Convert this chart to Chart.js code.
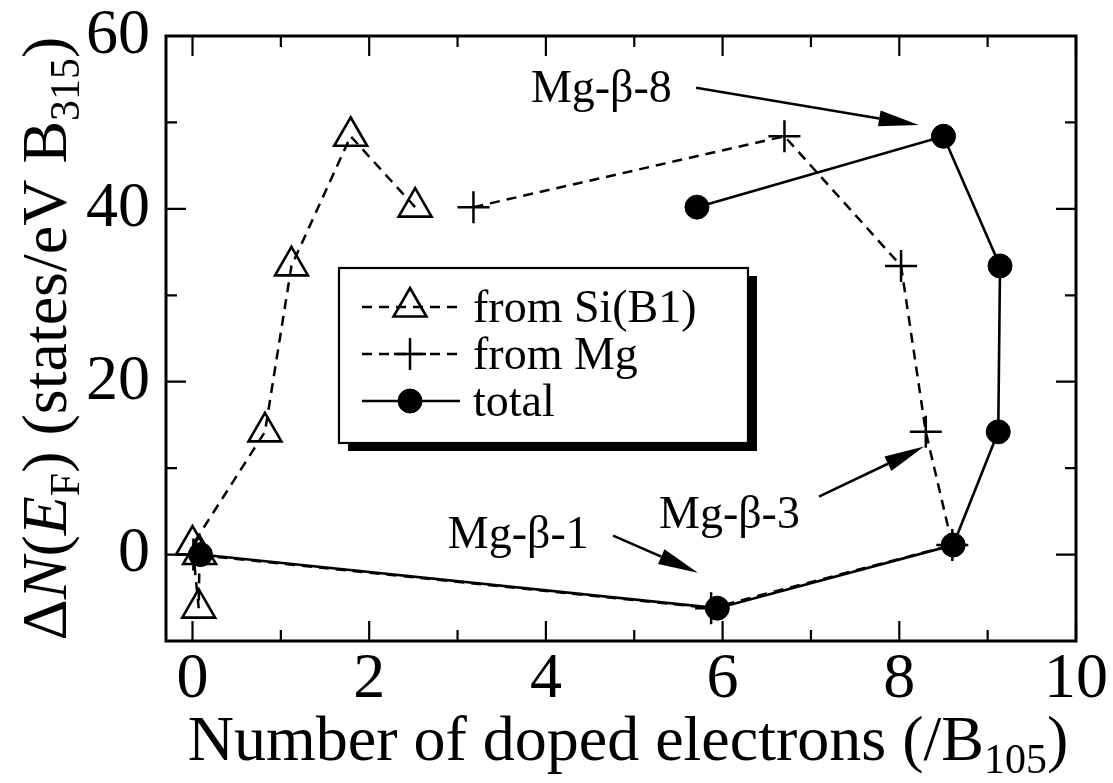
<!DOCTYPE html>
<html>
<head>
<meta charset="utf-8">
<script src="https://cdn.jsdelivr.net/npm/chart.js@4.4.1/dist/chart.umd.min.js"></script>
<style>
  html, body { margin: 0; padding: 0; background: #fff; }
  #wrap { width: 1113px; height: 783px; }
</style>
</head>
<body>
<div id="wrap"><canvas id="dos-chart" width="1113" height="783"></canvas></div>
<script>
/* ---- values (one entry per doping configuration) ---- */
const dopedSi    = [2.52, 1.79, 1.12, 0.82, 0.00, 0.07, 0.08];
const dopedMg    = [3.18, 6.70, 8.02, 8.30, 8.60, 5.87, 0.01];
const dopedTotal = [5.71, 8.50, 9.14, 9.12, 8.61, 5.94, 0.09];
const dosChange  = [40.2, 48.4, 33.4, 14.2, 1.1, -6.2, 0.0];

const seriesLabels = ["from Si(B1)", "from Mg", "total"];
const xTickValues = [0, 2, 4, 6, 8, 10];
const yTickValues = [0, 20, 40, 60];

/* annotations, placed in data units */
const notes = [
    { text: "Mg-\u03b2-8", at: [3.83, 52.4], from: [5.70, 54.0], to: [8.22, 49.7] },
    { text: "Mg-\u03b2-3", at: [5.28, 3.1],  from: [7.09, 6.7],  to: [8.28, 12.5] },
    { text: "Mg-\u03b2-1", at: [2.89, 0.8],  from: [4.76, 2.2],  to: [5.72, -2.1] }
];

const FONT = "'Liberation Serif', 'Times New Roman', Times, 'DejaVu Serif', serif";
const pts = (xs) => xs.map((x, i) => ({ x: x, y: dosChange[i] }));

/* draw text made of pieces: [text, "it" | "sub" | undefined] */
function fontFor(kind, size) {
    if (kind === "sub") return `${Math.round(size * 0.65)}px ${FONT}`;
    if (kind === "it") return `italic ${size}px ${FONT}`;
    return `${size}px ${FONT}`;
}
function richWidth(ctx, parts, size) {
    let w = 0;
    parts.forEach(([t, kind]) => {
        ctx.font = fontFor(kind, size);
        w += ctx.measureText(t).width;
    });
    return w;
}
function drawRich(ctx, parts, x, y, size) {
    ctx.textAlign = "left";
    ctx.textBaseline = "alphabetic";
    let cx = x;
    parts.forEach(([t, kind]) => {
        ctx.font = fontFor(kind, size);
        ctx.fillText(t, cx, kind === "sub" ? y + size * 0.2 : y);
        cx += ctx.measureText(t).width;
    });
}

function arrow(ctx, x0, y0, x1, y1) {
    const ang = Math.atan2(y1 - y0, x1 - x0);
    const len = 40, half = 8;
    const bx = x1 - Math.cos(ang) * len, by = y1 - Math.sin(ang) * len;
    ctx.beginPath();
    ctx.moveTo(x0, y0);
    ctx.lineTo(bx, by);
    ctx.stroke();
    ctx.beginPath();
    ctx.moveTo(x1, y1);
    ctx.lineTo(bx - Math.sin(ang) * half, by + Math.cos(ang) * half);
    ctx.lineTo(bx + Math.sin(ang) * half, by - Math.cos(ang) * half);
    ctx.closePath();
    ctx.fill();
}

const paperPlugin = {
    id: "paper",
    afterDraw(chart) {
        const ctx = chart.ctx;
        const a = chart.chartArea;
        const xs = chart.scales.x, ys = chart.scales.y;
        ctx.save();
        ctx.strokeStyle = "#000";
        ctx.fillStyle = "#000";

        // frame
        ctx.lineWidth = 3;
        ctx.strokeRect(a.left, a.top, a.right - a.left, a.bottom - a.top);

        // inward ticks on all four sides
        ctx.lineWidth = 2.2;
        const tick = (px, horiz, len) => {
            ctx.beginPath();
            if (horiz) {
                ctx.moveTo(px, a.bottom); ctx.lineTo(px, a.bottom - len);
                ctx.moveTo(px, a.top);    ctx.lineTo(px, a.top + len);
            } else {
                ctx.moveTo(a.left, px);  ctx.lineTo(a.left + len, px);
                ctx.moveTo(a.right, px); ctx.lineTo(a.right - len, px);
            }
            ctx.stroke();
        };
        xTickValues.forEach((v, i) => {
            tick(xs.getPixelForValue(v), true, 20);
            if (i > 0) tick(xs.getPixelForValue((v + xTickValues[i - 1]) / 2), true, 11);
        });
        yTickValues.forEach((v, i) => {
            tick(ys.getPixelForValue(v), false, 20);
            if (i > 0) tick(ys.getPixelForValue((v + yTickValues[i - 1]) / 2), false, 11);
        });

        // annotations
        ctx.lineWidth = 2.5;
        notes.forEach(n => {
            drawRich(ctx, [[n.text]], xs.getPixelForValue(n.at[0]), ys.getPixelForValue(n.at[1]), 46);
            arrow(ctx,
                xs.getPixelForValue(n.from[0]), ys.getPixelForValue(n.from[1]),
                xs.getPixelForValue(n.to[0]), ys.getPixelForValue(n.to[1]));
        });

        // legend box with drop shadow
        const L = a.left + 173, T = a.top + 232, R = a.left + 582, B = a.top + 407;
        ctx.fillRect(L + 9, T + 8, R - L, B - T);
        ctx.fillStyle = "#fff";
        ctx.fillRect(L, T, R - L, B - T);
        ctx.lineWidth = 2.2;
        ctx.strokeRect(L, T, R - L, B - T);
        chart.data.datasets.forEach((ds, i) => {
            const cy = T + 39 + i * 47;
            ctx.strokeStyle = "#000";
            ctx.lineWidth = ds.borderWidth;
            ctx.setLineDash(ds.borderDash || []);
            ctx.beginPath();
            ctx.moveTo(L + 23, cy);
            ctx.lineTo(L + 121, cy);
            ctx.stroke();
            ctx.setLineDash([]);
            ctx.lineWidth = ds.pointBorderWidth;
            ctx.fillStyle = ds.pointBackgroundColor;
            Chart.helpers.drawPoint(ctx, {
                pointStyle: ds.pointStyle, radius: ds.pointRadius,
                borderWidth: ds.pointBorderWidth, rotation: 0
            }, L + 71, cy);
            ctx.fillStyle = "#000";
            drawRich(ctx, [[ds.label]], L + 134, cy + 15, 46);
        });

        // axis titles
        ctx.fillStyle = "#000";
        const xTitle = [["Number of doped electrons (/B"], ["105", "sub"], [")"]];
        const xw = richWidth(ctx, xTitle, 64);
        drawRich(ctx, xTitle, 628 - xw / 2, 760, 64);

        const yTitle = [["\u0394"], ["N", "it"], ["("], ["E", "it"], ["F", "sub"],
                        [") (states/eV B"], ["315", "sub"], [")"]];
        const yw = richWidth(ctx, yTitle, 64);
        ctx.translate(66, (a.top + a.bottom) / 2);
        ctx.rotate(-Math.PI / 2);
        drawRich(ctx, yTitle, -yw / 2, 0, 64);
        ctx.restore();
    }
};

const common = { showLine: true, tension: 0, borderColor: "#000", pointBorderColor: "#000", pointHoverRadius: 0 };

new Chart(document.getElementById("dos-chart").getContext("2d"), {
    type: "scatter",
    data: {
        datasets: [
            Object.assign({}, common, {
                label: seriesLabels[0],
                data: pts(dopedSi),
                borderWidth: 2.5, borderDash: [10, 7],
                pointStyle: "triangle", pointRadius: 19, pointBorderWidth: 2.6,
                pointBackgroundColor: "rgba(0,0,0,0)"
            }),
            Object.assign({}, common, {
                label: seriesLabels[1],
                data: pts(dopedMg),
                borderWidth: 2.5, borderDash: [10, 7],
                pointStyle: "cross", pointRadius: 16, pointBorderWidth: 2.5,
                pointBackgroundColor: "rgba(0,0,0,0)"
            }),
            Object.assign({}, common, {
                label: seriesLabels[2],
                data: pts(dopedTotal),
                borderWidth: 2.6,
                pointStyle: "circle", pointRadius: 12, pointBorderWidth: 1,
                pointBackgroundColor: "#000"
            })
        ]
    },
    options: {
        responsive: false,
        animation: false,
        events: [],
        layout: { padding: { left: 86, right: 37, top: 36, bottom: 72 } },
        plugins: { legend: { display: false }, tooltip: { enabled: false } },
        scales: {
            x: {
                type: "linear", min: -0.3, max: 10,
                afterBuildTicks: (s) => { s.ticks = xTickValues.map(v => ({ value: v })); },
                afterFit: (s) => { s.height = 70; s.paddingLeft = 0; s.paddingRight = 0; },
                grid: { display: false, drawTicks: false },
                border: { display: false },
                ticks: { color: "#000", padding: 7, maxRotation: 0,
                         font: { family: FONT, size: 64, lineHeight: 1 } }
            },
            y: {
                type: "linear", min: -10, max: 60,
                afterBuildTicks: (s) => { s.ticks = yTickValues.map(v => ({ value: v })); },
                afterFit: (s) => { s.width = 80; s.paddingTop = 0; s.paddingBottom = 0; },
                grid: { display: false, drawTicks: false },
                border: { display: false },
                ticks: { color: "#000", padding: 16,
                         font: { family: FONT, size: 64, lineHeight: 1 } }
            }
        }
    },
    plugins: [paperPlugin]
});
</script>
</body>
</html>
